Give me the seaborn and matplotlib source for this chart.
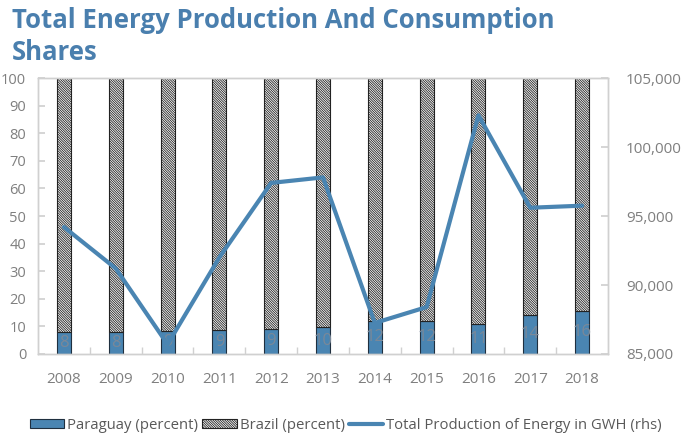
import numpy as np
import pandas as pd
import matplotlib
matplotlib.use("Agg")
import matplotlib.pyplot as plt
import seaborn as sns
from matplotlib.patches import Patch
from matplotlib.lines import Line2D
from matplotlib.ticker import FuncFormatter, FixedLocator

years = ["2008", "2009", "2010", "2011", "2012", "2013", "2014", "2015", "2016", "2017", "2018"]
paraguay = [8.1, 7.8, 8.5, 8.7, 9.1, 9.6, 12.0, 12.0, 10.9, 14.2, 15.7]
paraguay_labels = ["8", "8", "9", "9", "9", "10", "12", "12", "11", "14", "16"]
brazil = [100 - p for p in paraguay]
production = [94200, 91200, 85700, 92000, 97400, 97800, 87250, 88400, 102300, 95600, 95750]

title = "Total Energy Production And Consumption\nShares"
legend_labels = ["Paraguay (percent)", "Brazil (percent)", "Total Production of Energy in GWH (rhs)"]

sns.set_theme(style="white")
plt.rcParams["font.family"] = ["Open Sans", "DejaVu Sans"]
plt.rcParams["hatch.linewidth"] = 0.6
plt.rcParams["hatch.color"] = "#222222"

blue = "#4a85b2"
grey_txt = "#7f7f7f"
spine_c = "#d0d0d0"
hatch = "\\" * 14

df = pd.DataFrame({"year": years, "paraguay": paraguay, "brazil": brazil, "prod": production})

fig = plt.figure(figsize=(6.89, 4.46), dpi=100)
ax = fig.add_axes([0.0552, 0.2063, 0.8272, 0.6187])

sns.barplot(data=df, x="year", y="paraguay", ax=ax, color=blue, width=0.27,
            edgecolor="#1f2f3f", linewidth=0.8, saturation=1)
sns.barplot(data=df, x="year", y="brazil", ax=ax, color="white", width=0.27,
            edgecolor="#222222", linewidth=0.8, saturation=1, bottom=df["paraguay"].values,
            hatch=hatch)

# data labels in Paraguay bars
ax.bar_label(ax.containers[0], labels=paraguay_labels, label_type="center",
             color="#7a8898", fontsize=12)

ax.set_ylim(0, 100)
ax.set_xlim(-0.5, len(years) - 0.5)
ax.set_yticks(range(0, 101, 10))
ax.set_xlabel("")
ax.set_ylabel("")
ax.tick_params(axis="y", direction="in", length=5, color=spine_c, labelcolor=grey_txt,
               labelsize=10.5, pad=8.5, left=True)
ax.tick_params(axis="x", which="major", length=0, labelcolor=grey_txt, labelsize=11, pad=13)
ax.xaxis.set_minor_locator(FixedLocator(np.arange(0.5, len(years) - 1, 1.0)))
ax.tick_params(axis="x", which="minor", direction="in", length=5, color=spine_c, bottom=True)
for s in ax.spines.values():
    s.set_color(spine_c)
    s.set_linewidth(1.0)

ax2 = ax.twinx()
sns.lineplot(x=np.arange(len(years)), y=df["prod"].values, ax=ax2, color=blue, linewidth=3)
ax2.set_ylim(85000, 105000)
ax2.set_yticks(range(85000, 105001, 5000))
ax2.yaxis.set_major_formatter(FuncFormatter(lambda v, p: f"{int(v):,}"))
ax2.tick_params(axis="y", direction="in", length=5, color=spine_c, labelcolor=grey_txt,
                labelsize=11, pad=13, right=True)
ax2.set_ylabel("")
for s in ax2.spines.values():
    s.set_color(spine_c)
    s.set_linewidth(1.0)
ax2.set_xlim(-0.5, len(years) - 0.5)

fig.text(0.017, 0.985, title, ha="left", va="top", fontsize=18.5, fontweight="bold",
         color="#4a7fae", linespacing=1.25)

handles = [Patch(facecolor=blue, edgecolor="#1f2f3f", linewidth=0.8),
           Patch(facecolor="white", edgecolor="#222222", linewidth=0.8, hatch=hatch),
           Line2D([0], [0], color=blue, linewidth=3)]
fig.legend(handles, legend_labels, loc="lower center", bbox_to_anchor=(0.502, 0.0),
           ncol=3, frameon=False, fontsize=10.7, labelcolor="#595959",
           handlelength=2.3, handleheight=0.6, handletextpad=0.2, columnspacing=0.3)

fig.savefig("out.png", dpi=100)
